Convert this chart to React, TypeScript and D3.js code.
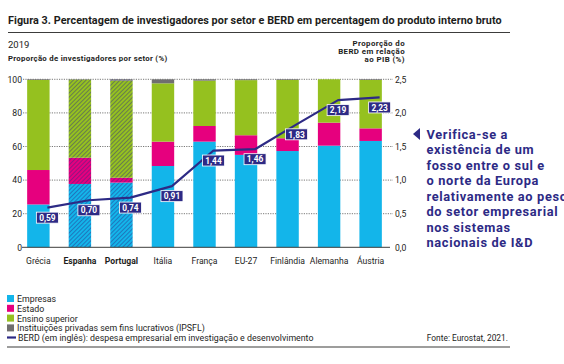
import { useEffect } from "react";
import * as d3 from "d3";

const countries = ["Grécia", "Espanha", "Portugal", "Itália", "França", "EU-27", "Finlândia", "Alemanha", "Áustria"];
const boldCountries = ["Espanha", "Portugal"];

// researchers by sector (%)
const empresas = [25.5, 37.7, 38.5, 48.4, 62.9, 55.0, 57.3, 60.5, 63.3];
const estado = [20.5, 15.6, 2.9, 14.5, 9.3, 11.7, 7.6, 13.7, 7.5];
const ensino = [53.6, 46.5, 57.8, 34.7, 27.0, 32.8, 34.7, 25.8, 28.8];
const ipsfl = [0.4, 0.2, 0.8, 2.4, 0.8, 0.5, 0.4, 0.0, 0.4];

// BERD as % of GDP
const berd = [0.59, 0.70, 0.74, 0.91, 1.44, 1.46, 1.83, 2.19, 2.23];

const leftTicks = [0, 20, 40, 60, 80, 100];
const rightTicks = [0, 0.5, 1, 1.5, 2, 2.5];

const sectors = ["Empresas", "Estado", "Ensino superior", "Instituições privadas sem fins lucrativos (IPSFL)"];
const sectorColors = ["#13b5ea", "#e6007e", "#95c11f", "#706f6f"];
const navy = "#2d2a85";

const calloutLines = [
  "Verifica-se a",
  "existência de um",
  "fosso entre o sul e",
  "o norte da Europa",
  "relativamente ao peso",
  "do setor empresarial",
  "nos sistemas",
  "nacionais de I&D",
];

const font = "Roboto, 'Noto Sans', sans-serif";

export default function App() {
  useEffect(() => {
    document.body.style.margin = "0";
  }, []);

  const x = d3.scaleBand<string>().domain(countries).range([23, 386]).paddingInner(0.46).paddingOuter(0.1);
  const y = d3.scaleLinear().domain([0, 100]).range([247.3, 79.3]);
  const y2 = d3.scaleLinear().domain([0, 2.5]).range([247.3, 79.3]);

  const rows = countries.map((c, i) => ({
    country: c,
    Empresas: empresas[i],
    Estado: estado[i],
    "Ensino superior": ensino[i],
    [sectors[3]]: ipsfl[i],
  }));
  const stacked = d3.stack<any>().keys(sectors)(rows);

  // line points sit a bit right of the bar centre
  const px = (c: string) => (x(c) as number) + x.bandwidth() / 2 + 9;
  const line = d3.line<number>().x((_, i) => px(countries[i])).y((d) => y2(d));

  return (
    <svg width={564} height={364} style={{ display: "block", background: "#fff", fontFamily: font }}>
      <defs>
        {sectorColors.map((col, i) => (
          <pattern key={i} id={`hatch${i}`} patternUnits="userSpaceOnUse" width={3} height={3} patternTransform="rotate(45)">
            <rect width={3} height={3} fill={col} />
            <line x1={0} y1={0} x2={0} y2={3} stroke="#2d2a85" strokeOpacity={0.6} strokeWidth={1.5} />
          </pattern>
        ))}
      </defs>

      <text x={8} y={24} fontSize={10.8} fontWeight={700} fill="#1d1d1b" letterSpacing={0.05}>
        Figura 3. Percentagem de investigadores por setor e BERD em percentagem do produto interno bruto
      </text>
      <line x1={8} x2={510} y1={32.5} y2={32.5} stroke="#3c3c3b" strokeWidth={1} />
      <text x={8} y={48} fontSize={9.5} fill="#1d1d1b">2019</text>
      <text x={8} y={61} fontSize={7.8} fontWeight={700} fill="#1d1d1b" letterSpacing={0.3}>
        Proporção de investigadores por setor (%)
      </text>
      {["Proporção do", "BERD em relação", "ao PIB (%)"].map((t, i) => (
        <text key={t} x={405} y={46 + i * 7.8} fontSize={7.9} fontWeight={700} fill="#1d1d1b" textAnchor="end" letterSpacing={0.4}>
          {t}
        </text>
      ))}

      {/* gridlines */}
      {leftTicks.slice(1).map((t) => (
        <line key={t} x1={23} x2={393} y1={y(t)} y2={y(t)} stroke="#575756" strokeWidth={0.8} strokeDasharray="1.2,1.2" />
      ))}
      {leftTicks.map((t) => (
        <text key={t} x={22} y={y(t) + 3.2} fontSize={8.6} fill="#1d1d1b" textAnchor="end">
          {t}
        </text>
      ))}
      {rightTicks.map((t) => (
        <text key={t} x={395} y={y2(t) + 3.2} fontSize={8.6} fill="#1d1d1b">
          {d3.format(".1f")(t).replace(".", ",")}
        </text>
      ))}

      {/* bars */}
      {stacked.map((layer, li) => (
        <g key={li}>
          {layer.map((d, i) => {
            const c = countries[i];
            const hatched = boldCountries.includes(c);
            return (
              <rect
                key={c}
                x={x(c)}
                width={x.bandwidth()}
                y={y(d[1])}
                height={Math.max(0, y(d[0]) - y(d[1]))}
                fill={hatched ? `url(#hatch${li})` : sectorColors[li]}
              />
            );
          })}
        </g>
      ))}
      <line x1={22} x2={390} y1={y(0)} y2={y(0)} stroke="#3c3c3b" strokeWidth={1} />

      {countries.map((c) => (
        <text
          key={c}
          x={(x(c) as number) + x.bandwidth() / 2}
          y={264}
          fontSize={8.6}
          fontWeight={boldCountries.includes(c) ? 700 : 400}
          fill="#1d1d1b"
          textAnchor="middle"
        >
          {c}
        </text>
      ))}

      {/* BERD line */}
      <path d={line(berd) || ""} fill="none" stroke={navy} strokeWidth={2.2} strokeLinejoin="round" />
      {berd.map((v, i) => {
        const cx = px(countries[i]);
        const cy = y2(v) + 10;
        return (
          <g key={i}>
            <rect x={cx - 11} y={cy - 5.5} width={22} height={11} fill={navy} stroke="#fff" strokeWidth={0.8} />
            <text x={cx} y={cy + 3.2} fontSize={8.4} fontWeight={700} fill="#fff" textAnchor="middle">
              {d3.format(".2f")(v).replace(".", ",")}
            </text>
          </g>
        );
      })}

      {/* callout */}
      <path d="M413,134 L420,128 L420,140 Z" fill={navy} />
      {calloutLines.map((t, i) => (
        <text key={t} x={426.5} y={138.8 + i * 15.5} fontSize={12.8} fontWeight={700} fill={navy} letterSpacing={0.65}>
          {t}
        </text>
      ))}

      {/* legend */}
      {sectors.map((s, i) => (
        <g key={s}>
          <rect x={7} y={295 + i * 9.8} width={7} height={7} fill={sectorColors[i]} />
          <text x={17} y={302 + i * 9.8} fontSize={8.8} fill="#1d1d1b">
            {s}
          </text>
        </g>
      ))}
      <line x1={7} x2={16} y1={337.5} y2={337.5} stroke={navy} strokeWidth={2.2} />
      <text x={18} y={341.2} fontSize={8.8} fill="#1d1d1b">
        BERD (em inglês): despesa empresarial em investigação e desenvolvimento
      </text>
      <text x={508} y={341.2} fontSize={8.4} fill="#1d1d1b" textAnchor="end">
        Fonte: Eurostat, 2021.
      </text>
      <line x1={7} x2={510} y1={347} y2={347} stroke="#9d9d9c" strokeWidth={2} />
    </svg>
  );
}
